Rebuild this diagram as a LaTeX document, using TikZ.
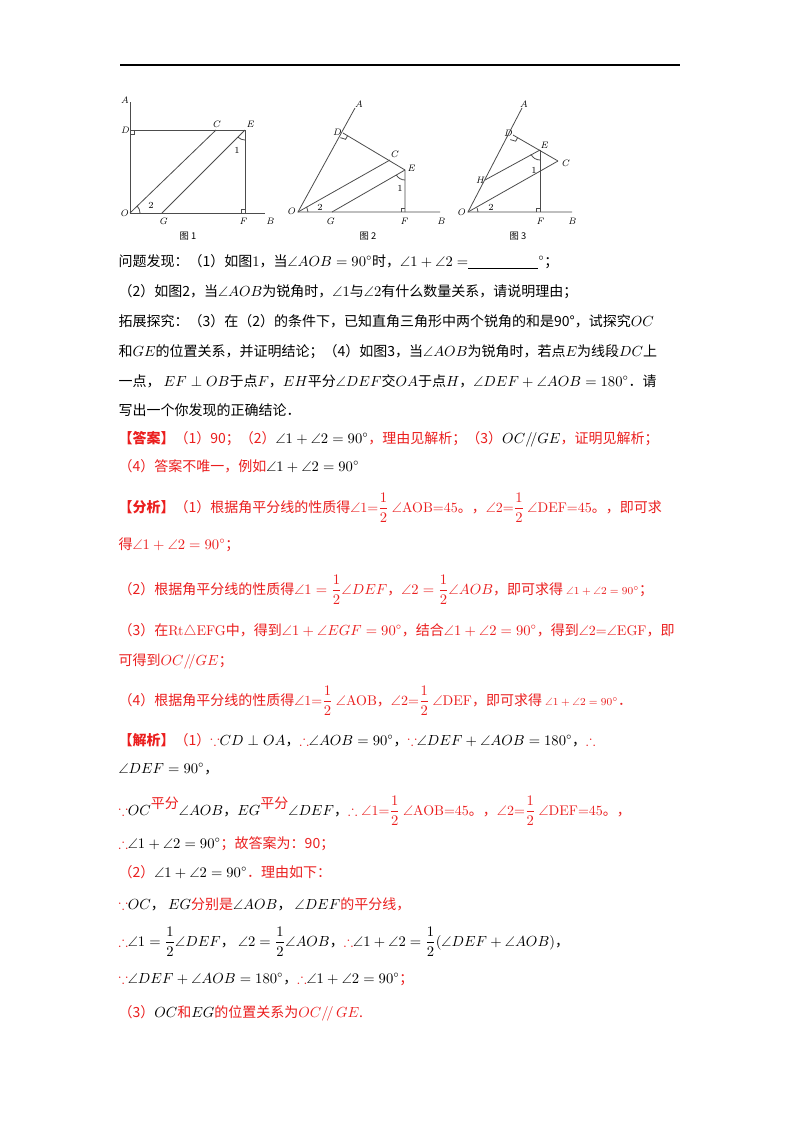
\documentclass[tikz,border=0pt]{standalone}
\usepackage{amsmath,amssymb}
\usepackage{fontspec}
\setmainfont{Noto Sans CJK SC}
\newfontfamily\lmfont{Latin Modern Roman}
\usetikzlibrary{calc}
\definecolor{myred}{RGB}{235,30,30}
\newcommand\R[1]{\textcolor{myred}{#1}}
\begin{document}
\begin{tikzpicture}[x=0.75pt,y=-0.75pt,line width=0.8pt,
  lbl/.style={font=\fontsize{7}{8}\selectfont\lmfont\itshape,inner sep=1pt},
  num/.style={font=\fontsize{7}{8}\selectfont\lmfont,inner sep=1pt},
  figcap/.style={font=\fontsize{7}{8}\selectfont},
  ln/.style={anchor=base west,inner sep=0pt,font=\fontsize{10.5}{12}\selectfont}]
\useasboundingbox (0,0) rectangle (800,1132);
\fill[white] (0,0) rectangle (800,1132);
\draw[line width=1pt] (120,65) -- (680,65);
% fig1
\begin{scope}[line width=0.6pt,gray!60!black]
\coordinate (O1) at (130,213); \coordinate (A1) at (130,102); \coordinate (D1) at (130,130);
\coordinate (C1) at (216,130); \coordinate (E1) at (245,130); \coordinate (F1) at (245,213);
\coordinate (G1) at (162,213); \coordinate (B1) at (265,213);
\draw (A1)--(O1)--(B1); \draw (D1)--(E1)--(F1); \draw (O1)--(C1); \draw (G1)--(E1);
\draw (130,134)--(134,134)--(134,130); \draw (245,209)--(241,209)--(241,213);
\draw (140,213) arc (0:-44:10); \draw (245,140) arc (90:133:10);
\end{scope}
\node[lbl] at (125,100) {A}; \node[lbl] at (125,130) {D}; \node[lbl] at (216,124) {C};
\node[lbl] at (250,124) {E}; \node[num] at (237,150) {1}; \node[num] at (151,205) {2};
\node[lbl] at (124,213) {O}; \node[lbl] at (163,221) {G}; \node[lbl] at (243,221) {F}; \node[lbl] at (270,221) {B};
\node[figcap] at (188,236) {图 1};
% fig2
\begin{scope}[line width=0.6pt,gray!60!black]
\coordinate (O2) at (298,212); \coordinate (A2) at (355,108); \coordinate (D2) at (343,133);
\coordinate (C2) at (390,160); \coordinate (E2) at (405,170); \coordinate (F2) at (405,212);
\coordinate (G2) at (332,212); \coordinate (B2) at (440,212);
\draw (A2)--(O2)--(B2); \draw (D2)--(E2)--(F2); \draw (O2)--(C2); \draw (G2)--(E2);
\draw (405,208)--(401,208)--(401,212);
\draw ($(D2)!4pt!(E2)$) -- ++(-2,3.6) -- ($(D2)!4pt!(O2)$);
\draw (308,212) arc (0:-29:10); \draw (405,180) arc (90:150:10);
\end{scope}
\node[lbl] at (359,104) {A}; \node[lbl] at (337,132) {D}; \node[lbl] at (394,154) {C};
\node[lbl] at (411,168) {E}; \node[num] at (400,188) {1}; \node[num] at (320,207) {2};
\node[lbl] at (291,211) {O}; \node[lbl] at (330,221) {G}; \node[lbl] at (404,221) {F}; \node[lbl] at (441,221) {B};
\node[figcap] at (368,236) {图 2};
% fig3
\begin{scope}[line width=0.6pt,gray!60!black]
\coordinate (O3) at (468,212); \coordinate (A3) at (522,108); \coordinate (D3) at (513,135);
\coordinate (E3) at (540,150); \coordinate (C3) at (558,161); \coordinate (H3) at (485,180);
\coordinate (F3) at (540,212); \coordinate (B3) at (572,212);
\draw (A3)--(O3)--(B3); \draw (D3)--(C3); \draw (E3)--(F3); \draw (O3)--(C3); \draw (H3)--(E3);
\draw (540,208)--(536,208)--(536,212);
\draw ($(D3)!4pt!(E3)$) -- ++(-2,3.6) -- ($(D3)!4pt!(O3)$);
\draw (478,212) arc (0:-24:10); \draw (540,160) arc (90:155:10);
\end{scope}
\node[lbl] at (524,104) {A}; \node[lbl] at (508,133) {D}; \node[lbl] at (544,145) {E};
\node[lbl] at (565,163) {C}; \node[lbl] at (480,180) {H}; \node[num] at (534,170) {1};
\node[num] at (491,207) {2}; \node[lbl] at (461,212) {O}; \node[lbl] at (540,221) {F}; \node[lbl] at (572,221) {B};
\node[figcap] at (518,236) {图 3};
% question
\node[ln] (q1) at (118,266) {问题发现：（1）如图$1$，当$\angle AOB=90^\circ$时，$\angle1+\angle2=$\underline{\hspace{5em}}$^\circ$；};
\node[ln] (q2) at (118,296) {（2）如图2，当$\angle AOB$为锐角时，$\angle1$与$\angle2$有什么数量关系，请说明理由；};
\node[ln] (q3) at (118,326) {拓展探究：（3）在（2）的条件下，已知直角三角形中两个锐角的和是90°，试探究$OC$};
\node[ln] (q4) at (118,356) {和$GE$的位置关系，并证明结论；（4）如图3，当$\angle AOB$为锐角时，若点$E$为线段$DC$上};
\node[ln] (q5) at (118,386) {一点，\ $EF\perp OB$于点$F$，$EH$平分$\angle DEF$交$OA$于点$H$，$\angle DEF+\angle AOB=180^\circ$．请};
\node[ln] (q6) at (118,415) {写出一个你发现的正确结论．};
% answer
\node[ln] (a1) at (118,443) {\R{\textbf{【答案】}（1）90；（2）}$\angle1+\angle2=90^\circ$\R{，理由见解析；（3）}$OC/\!/GE$\R{，证明见解析；}};
\node[ln] (a2) at (118,471) {\R{（4）答案不唯一，例如}$\angle1+\angle2=90^\circ$};
% analysis
\node[ln] (b1) at (118,512) {\R{\textbf{【分析】}（1）根据角平分线的性质得$\angle${\lmfont 1=}$\dfrac12$ $\angle${\lmfont AOB=45}。，$\angle${\lmfont 2=}$\dfrac12$ $\angle${\lmfont DEF=45}。，即可求}};
\node[ln] (b2) at (118,549) {\R{得$\angle1+\angle2=90^\circ$；}};
\node[ln] (b3) at (118,594) {\R{（2）根据角平分线的性质得$\angle1=\dfrac12\angle DEF$，$\angle2=\dfrac12\angle AOB$，即可求得 {\footnotesize$\angle1+\angle2=90^\circ$}；}};
\node[ln] (b4) at (118,635) {\R{（3）在{\lmfont Rt}$\triangle${\lmfont EFG}中，得到$\angle1+\angle EGF=90^\circ$，结合$\angle1+\angle2=90^\circ$，得到$\angle${\lmfont 2=}$\angle${\lmfont EGF}，即}};
\node[ln] (b5) at (118,665) {\R{可得到$OC/\!/GE$；}};
\node[ln] (b6) at (118,705) {\R{（4）根据角平分线的性质得$\angle${\lmfont 1=}$\dfrac12$ $\angle${\lmfont AOB}，$\angle${\lmfont 2=}$\dfrac12$ $\angle${\lmfont DEF}，即可求得 {\footnotesize$\angle1+\angle2=90^\circ$}．}};
% solution
\node[ln] (c1) at (118,745) {\R{\textbf{【解析】}（1）$\because$}$CD\perp OA$，\R{$\therefore$}$\angle AOB=90^\circ$，\R{$\because$}$\angle DEF+\angle AOB=180^\circ$，\R{$\therefore$}};
\node[ln] (c2) at (118,773) {$\angle DEF=90^\circ$，};
\node[ln] (c3) at (118,815) {\R{$\because$}$OC$\raisebox{5pt}{\R{平分}}$\angle AOB$，$EG$\raisebox{5pt}{\R{平分}}$\angle DEF$，\R{$\therefore\angle${\lmfont 1=}$\dfrac12$ $\angle${\lmfont AOB=45}。，$\angle${\lmfont 2=}$\dfrac12$ $\angle${\lmfont DEF=45}。，}};
\node[ln] (c4) at (118,848) {\R{$\therefore$}$\angle1+\angle2=90^\circ$\R{；故答案为：90；}};
\node[ln] (c5) at (118,877) {\R{（2）}$\angle1+\angle2=90^\circ$\R{．理由如下：}};
\node[ln] (c6) at (118,909) {\R{$\because$}$OC$，\ $EG$\R{分别是}$\angle AOB$，\ $\angle DEF$\R{的平分线，}};
\node[ln] (c7) at (118,946) {\R{$\therefore$}$\angle1=\dfrac12\angle DEF$，\ $\angle2=\dfrac12\angle AOB$，\R{$\therefore$}$\angle1+\angle2=\dfrac12(\angle DEF+\angle AOB)$，};
\node[ln] (c8) at (118,983) {\R{$\because$}$\angle DEF+\angle AOB=180^\circ$，\R{$\therefore$}$\angle1+\angle2=90^\circ$\R{；}};
\node[ln] (c9) at (118,1017) {\R{（3）}$OC$\R{和}$EG$\R{的位置关系为$OC/\!/\,GE$.}};
\end{tikzpicture}
\end{document}
